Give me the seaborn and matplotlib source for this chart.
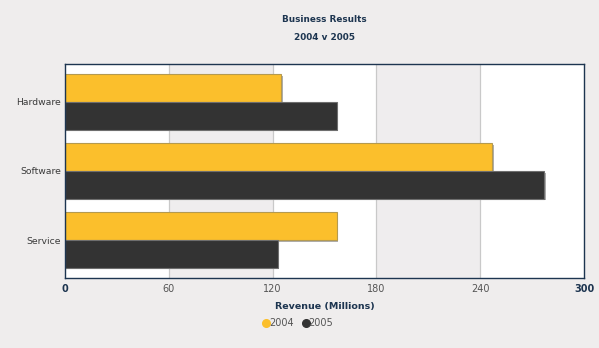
import matplotlib
matplotlib.use("Agg")
import matplotlib.pyplot as plt
import matplotlib.patheffects as pe
from matplotlib.lines import Line2D
import seaborn as sns
import pandas as pd

categories = ["Hardware", "Software", "Service"]
years = ["2004", "2005"]
revenue_2004 = [125, 247, 157]
revenue_2005 = [157, 277, 123]
x_ticks = [0, 60, 120, 180, 240, 300]

df = pd.DataFrame({
    "category": categories * 2,
    "year": [years[0]] * 3 + [years[1]] * 3,
    "revenue": revenue_2004 + revenue_2005,
})

sns.set_theme(style="white")
plt.rcParams["font.family"] = ["DejaVu Sans"]

bg = "#efeded"
navy = "#1d3550"
palette = {"2004": "#fbbf2c", "2005": "#333333"}

W, H = 599, 348
fig = plt.figure(figsize=(W / 100, H / 100), dpi=100, facecolor=bg)
ax = fig.add_axes([65 / W, 1 - 278 / H, (584 - 65) / W, (278 - 64) / H])
ax.set_facecolor("white")

# alternating shaded bands and vertical grid lines
for lo, hi in [(60, 120), (180, 240)]:
    ax.axvspan(lo, hi, color="#efedee", zorder=0, lw=0)
for t in x_ticks[1:-1]:
    ax.axvline(t, color="#c9c9c9", lw=0.9, zorder=0.5)

sns.barplot(data=df, y="category", x="revenue", hue="year", orient="h",
            palette=palette, saturation=1, width=0.8, ax=ax, legend=False,
            zorder=2)

edge = {0: "#b49a50", 1: "#6e6e6e"}
for i, cont in enumerate(ax.containers):
    for bar in cont:
        bar.set_edgecolor(edge[i])
        bar.set_linewidth(0.8)
        bar.set_path_effects([pe.SimplePatchShadow(offset=(1.2, -1.2), shadow_rgbFace="#9a9a9a", alpha=0.8),
                              pe.Normal()])

ax.set_xlim(0, 300)
ax.set_ylim(2.55, -0.55)
ax.set_xticks(x_ticks)
ax.set_xticklabels([str(t) for t in x_ticks])
for i, lab in enumerate(ax.get_xticklabels()):
    if i in (0, len(x_ticks) - 1):
        lab.set_fontweight("bold")
        lab.set_color(navy)
    else:
        lab.set_color("#555555")
    lab.set_fontsize(7)
for lab in ax.get_yticklabels():
    lab.set_fontsize(6.7)
    lab.set_color("#3a3a3a")
ax.tick_params(axis="x", length=0, pad=4)
ax.tick_params(axis="y", length=0, pad=3)
ax.set_ylabel("")
ax.set_xlabel("Revenue (Millions)", fontsize=6.8, fontweight="bold", color=navy, labelpad=6)

for s in ax.spines.values():
    s.set_color(navy)
    s.set_linewidth(1.0)
    s.set_visible(True)

fig.text(324.5 / W, 1 - 20 / H, "Business Results", ha="center", va="center",
         fontsize=6.4, fontweight="bold", color=navy)
fig.text(324.5 / W, 1 - 37 / H, "2004 v 2005", ha="center", va="center",
         fontsize=6.4, fontweight="bold", color=navy)

handles = [Line2D([], [], marker="o", ls="", markersize=5.5, color=palette[y]) for y in years]
fig.legend(handles, years, loc="center", bbox_to_anchor=(297 / W, 1 - 323 / H),
           ncol=2, frameon=False, fontsize=7, handletextpad=-0.3,
           columnspacing=0.6, labelcolor="#555555", handlelength=1.2)

fig.savefig("out.png", dpi=100, facecolor=bg)
